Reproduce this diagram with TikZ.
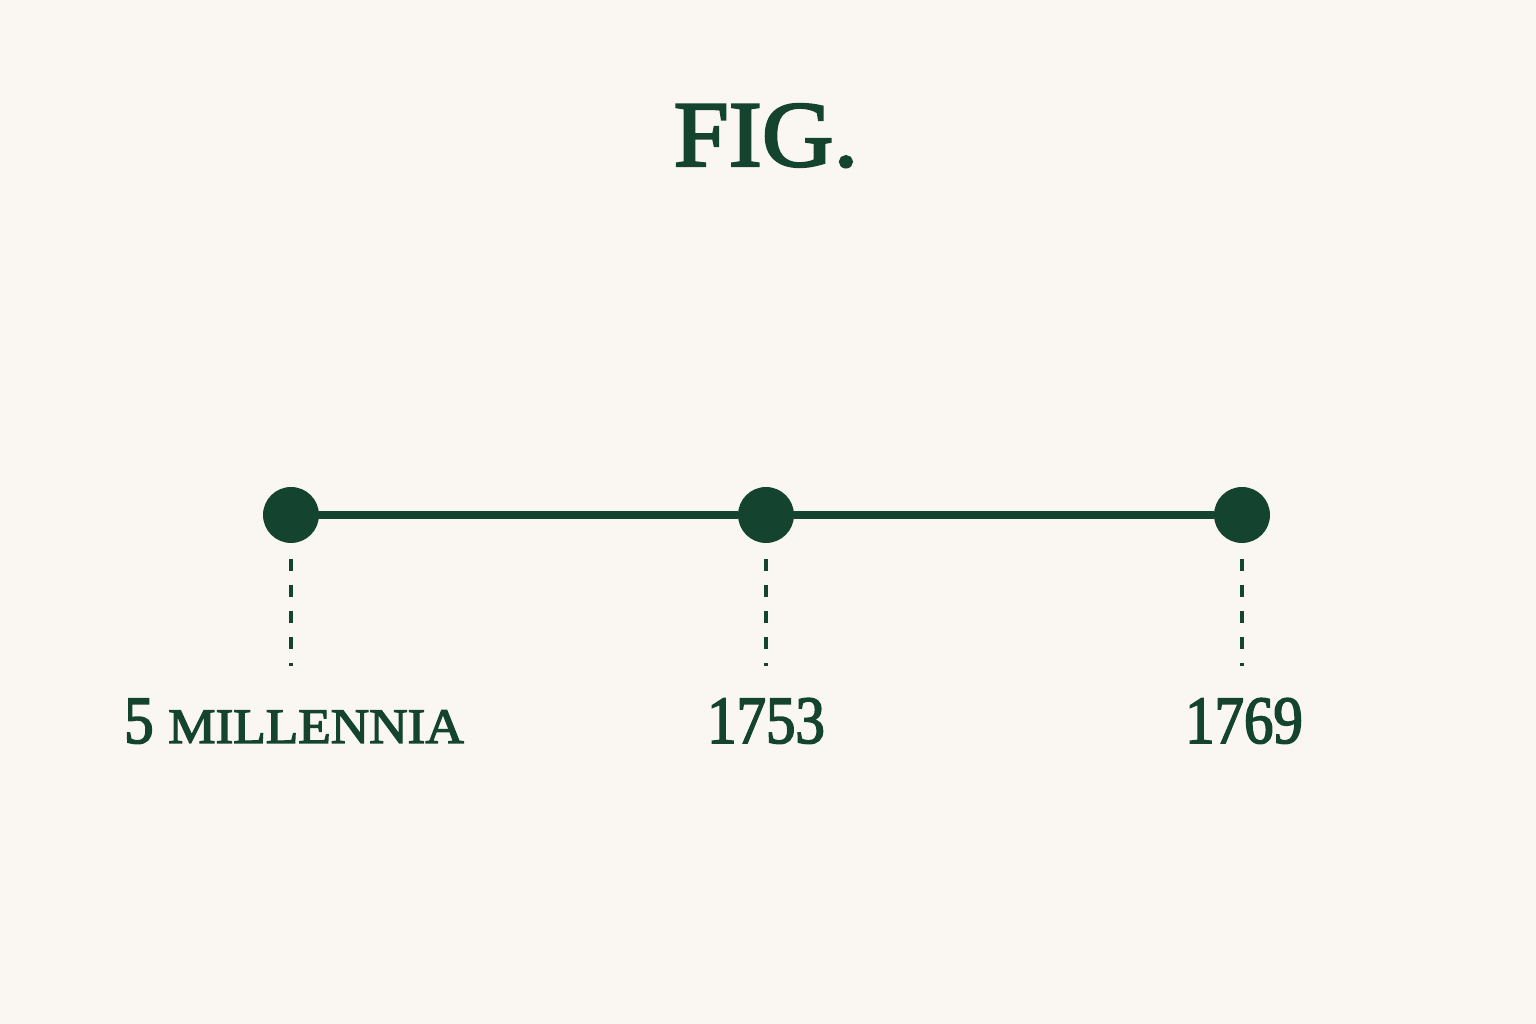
\documentclass[tikz,border=0pt]{standalone}
\usepackage{fontspec}
\setmainfont{Liberation Serif}
\newfontfamily\titlefont{Liberation Serif}[FakeBold=2.6,FakeStretch=1.06]
\newfontfamily\yearfont{Liberation Serif}[FakeBold=2.4,FakeStretch=0.87]
\newfontfamily\capsfont{Liberation Serif}[FakeBold=2.6,FakeStretch=1.07]
\definecolor{figgreen}{RGB}{20,68,48}
\definecolor{paper}{RGB}{250,247,242}
\begin{document}
\begin{tikzpicture}[x=0.02cm,y=0.02cm,line cap=butt,
		dot/.style={circle,fill=figgreen,minimum size=1.12cm,inner sep=0pt},
		year/.style={anchor=base,text=figgreen,font=\yearfont\fontsize{38.5}{42}\selectfont},
		guide/.style={draw=figgreen,line width=2.4pt,dash pattern=on 0.24cm off 0.28cm}]
		\fill[paper] (0,0) rectangle (1536,1024);
		\useasboundingbox (0,0) rectangle (1536,1024);
		\node[anchor=base,text=figgreen,font=\titlefont\fontsize{53.3}{56}\selectfont] (title) at (766,858) {FIG.};
		\foreach \n/\x in {a/291,b/766,c/1242}
		{\node[dot] (\n) at (\x,509) {};
		\coordinate (\n top) at (\x,465);
		\coordinate (\n end) at (\x,358);}
		\draw[figgreen,line width=4.5pt] (a) -- (b) -- (c);
		\foreach \n in {a,b,c}
		\draw[guide] (\n top) -- (\n end);
		\node[year] (la) at (294,281) {5 {\capsfont\fontsize{28.3}{32}\selectfont MILLENNIA}};
		\node[year] (lb) at (766,281) {1753};
		\node[year] (lc) at (1244,281) {1769};
		\end{tikzpicture}
\end{document}
